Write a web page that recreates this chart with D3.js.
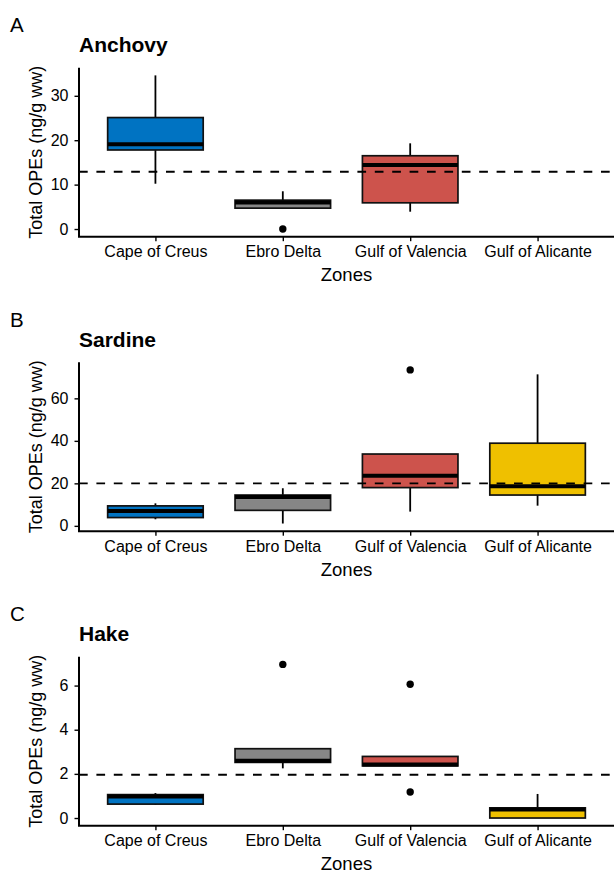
<!DOCTYPE html>
<html>
<head>
<meta charset="utf-8">
<script src="https://cdn.jsdelivr.net/npm/d3@7"></script>
<style>
  body { margin: 0; background: #fff; }
  svg text { font-family: "Liberation Sans", Arial, sans-serif; fill: #000; }
</style>
</head>
<body>
<div id="chart"></div>
<script>
// zones on the x axis
const zones = ["Cape of Creus", "Ebro Delta", "Gulf of Valencia", "Gulf of Alicante"];
const zoneColors = ["#0073C2", "#868686", "#CD534C", "#EFC000"];

// box stats per zone: [lower whisker, q1, median, q3, upper whisker], null = no data
const anchovyBoxes = [
  [10.2, 17.8, 19.1, 25.1, 34.6],
  [4.7, 4.7, 6.0, 6.5, 8.5],
  [3.9, 5.9, 14.4, 16.5, 19.3],
  null
];
const anchovyOutliers = [[], [0], [], []];
const anchovyRef = 12.9;
const anchovyTicks = [0, 10, 20, 30];

const sardineBoxes = [
  [3.1, 3.9, 7.0, 9.4, 10.6],
  [1.1, 7.3, 13.6, 14.5, 17.7],
  [6.7, 18.0, 23.6, 33.8, 33.8],
  [9.5, 14.5, 18.6, 38.9, 71.3]
];
const sardineOutliers = [[], [], [73.4], []];
const sardineRef = 20.0;
const sardineTicks = [0, 20, 40, 60];

const hakeBoxes = [
  [0.59, 0.63, 0.97, 1.06, 1.13],
  [2.25, 2.52, 2.6, 3.14, 3.14],
  [2.36, 2.36, 2.42, 2.79, 2.79],
  [0, 0, 0.39, 0.46, 1.09]
];
const hakeOutliers = [[], [6.96], [6.06, 1.18], []];
const hakeRef = 1.96;
const hakeTicks = [0, 2, 4, 6];

const panels = [
  {letter: "A", title: "Anchovy", boxes: anchovyBoxes, outliers: anchovyOutliers, ref: anchovyRef, ticks: anchovyTicks},
  {letter: "B", title: "Sardine", boxes: sardineBoxes, outliers: sardineOutliers, ref: sardineRef, ticks: sardineTicks},
  {letter: "C", title: "Hake", boxes: hakeBoxes, outliers: hakeOutliers, ref: hakeRef, ticks: hakeTicks}
];

const width = 614, height = 872;
const svg = d3.select("#chart").append("svg")
  .attr("width", width)
  .attr("height", height);

const plotLeft = 79, plotRight = 614;
const plotH = 169;
const panelStep = 294.5;
const firstTop = 67.7;

const color = d3.scaleOrdinal().domain(zones).range(zoneColors);

panels.forEach(function(p, i) {
  const top = firstTop + i * panelStep;
  const bottom = top + plotH;
  const g = svg.append("g");

  // y extent from whiskers and outliers, ggplot style 5% expansion
  let vals = [];
  p.boxes.forEach(function(b) { if (b) vals = vals.concat(b); });
  p.outliers.forEach(function(o) { vals = vals.concat(o); });
  const lo = d3.min(vals), hi = d3.max(vals);
  const pad = (hi - lo) * 0.05;
  const y = d3.scaleLinear().domain([lo - pad, hi + pad]).range([bottom, top]);

  const x = d3.scalePoint().domain(zones)
    .range([plotLeft, plotRight])
    .padding(0.6);
  const bw = 0.75 * x.step();

  // panel letter and title
  g.append("text").attr("x", 10).attr("y", top - 35.7)
    .attr("font-size", 20.5).text(p.letter);
  g.append("text").attr("x", plotLeft).attr("y", top - 15.5)
    .attr("font-size", 21).attr("font-weight", "bold").text(p.title);

  // boxes
  zones.forEach(function(z, j) {
    const b = p.boxes[j];
    const cx = x(z);
    if (b) {
      g.append("line").attr("x1", cx).attr("x2", cx)
        .attr("y1", y(b[3])).attr("y2", y(b[4]))
        .attr("stroke", "#000").attr("stroke-width", 1.8);
      g.append("line").attr("x1", cx).attr("x2", cx)
        .attr("y1", y(b[1])).attr("y2", y(b[0]))
        .attr("stroke", "#000").attr("stroke-width", 1.8);
      g.append("rect")
        .attr("x", cx - bw / 2).attr("width", bw)
        .attr("y", y(b[3])).attr("height", Math.max(0, y(b[1]) - y(b[3])))
        .attr("fill", color(z))
        .attr("stroke", "#111").attr("stroke-width", 1.7);
      g.append("line")
        .attr("x1", cx - bw / 2).attr("x2", cx + bw / 2)
        .attr("y1", y(b[2])).attr("y2", y(b[2]))
        .attr("stroke", "#000").attr("stroke-width", 4);
    }
    g.selectAll(null).data(p.outliers[j]).enter()
      .append("circle")
      .attr("cx", cx).attr("cy", function(d) { return y(d); })
      .attr("r", 3.7).attr("fill", "#000");
  });

  // dashed reference line
  g.append("line")
    .attr("x1", plotLeft).attr("x2", plotRight)
    .attr("y1", y(p.ref)).attr("y2", y(p.ref))
    .attr("stroke", "#000").attr("stroke-width", 1.8)
    .attr("stroke-dasharray", "8.7,8.7");

  // axes
  const yAxis = g.append("g").attr("transform", "translate(" + plotLeft + ",0)")
    .call(d3.axisLeft(y).tickValues(p.ticks).tickSize(4.5).tickPadding(6).tickFormat(d3.format("d")));
  yAxis.select(".domain").remove();
  yAxis.selectAll(".tick line").attr("stroke", "#000").attr("stroke-width", 1.4);
  yAxis.selectAll("text")
    .attr("font-size", 16).attr("font-family", "Liberation Sans, Arial, sans-serif").attr("fill", "#111");

  const xAxis = g.append("g").attr("transform", "translate(0," + bottom + ")")
    .call(d3.axisBottom(x).tickSize(4.5).tickPadding(4.5));
  xAxis.select(".domain").remove();
  xAxis.selectAll(".tick line").attr("stroke", "#000").attr("stroke-width", 1.4);
  xAxis.selectAll("text")
    .attr("font-size", 16).attr("font-family", "Liberation Sans, Arial, sans-serif").attr("fill", "#111");

  // axis lines
  g.append("line").attr("x1", plotLeft).attr("x2", plotLeft)
    .attr("y1", top).attr("y2", bottom)
    .attr("stroke", "#000").attr("stroke-width", 2);
  g.append("line").attr("x1", plotLeft - 1).attr("x2", plotRight)
    .attr("y1", bottom).attr("y2", bottom)
    .attr("stroke", "#000").attr("stroke-width", 2);

  // axis titles
  g.append("text")
    .attr("x", (plotLeft + plotRight) / 2).attr("y", bottom + 44.5)
    .attr("text-anchor", "middle").attr("font-size", 18.5).text("Zones");
  g.append("text")
    .attr("transform", "translate(42," + (top + bottom) / 2 + ") rotate(-90)")
    .attr("text-anchor", "middle").attr("font-size", 18).text("Total OPEs (ng/g ww)");
});
</script>
</body>
</html>
